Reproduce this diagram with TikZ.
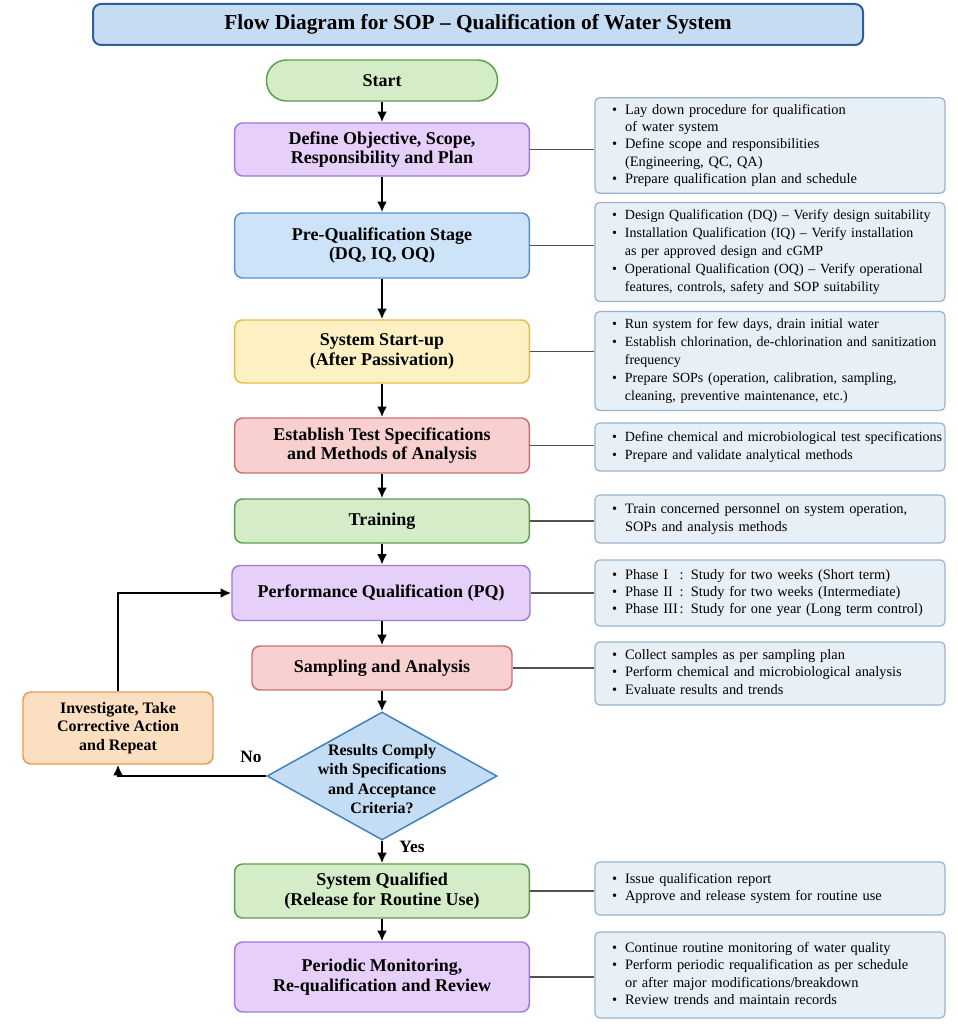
\documentclass[tikz,border=0pt]{standalone}
\usepackage{fontspec}
\setmainfont{Liberation Serif}
\usepackage{tikz}
\usetikzlibrary{arrows,arrows.meta,shapes.geometric}

\definecolor{titlefill}{HTML}{C6DCF3}
\definecolor{titledraw}{HTML}{2F5F9A}
\definecolor{greenfill}{HTML}{D5ECC9}
\definecolor{greendraw}{HTML}{5C9E4B}
\definecolor{purplefill}{HTML}{E6CFF8}
\definecolor{purpledraw}{HTML}{A07AD6}
\definecolor{bluefill}{HTML}{CDE3F7}
\definecolor{bluedraw}{HTML}{5B8FC9}
\definecolor{yellowfill}{HTML}{FDF0C3}
\definecolor{yellowdraw}{HTML}{E3BD4A}
\definecolor{redfill}{HTML}{F9D0D0}
\definecolor{reddraw}{HTML}{C97070}
\definecolor{orangefill}{HTML}{FBDFC0}
\definecolor{orangedraw}{HTML}{E59A55}
\definecolor{decfill}{HTML}{C4DDF4}
\definecolor{decdraw}{HTML}{3D7FBF}
\definecolor{notefill}{HTML}{E7EFF7}
\definecolor{notedraw}{HTML}{9AB3CB}
\definecolor{linkgray}{HTML}{505050}

\newcommand{\notelines}[1]{\begin{tabular}{@{}l@{\hspace{6pt}}l@{}}#1\end{tabular}}
\newcommand{\phase}[1]{\makebox[41pt][l]{#1}}

\begin{document}
\begin{tikzpicture}[x=0.75pt,y=-0.75pt]

\tikzset{box/.style = {shape=rectangle,rounded corners=6pt,draw,line width=1.1pt,minimum width=221pt,align=center,inner sep=2pt,font=\fontsize{13.5}{14.5}\selectfont\bfseries}}
\tikzset{note/.style = {shape=rectangle,rounded corners=3.5pt,draw=notedraw,fill=notefill,line width=0.9pt,minimum width=262.5pt,text width=237pt,inner xsep=12.75pt,align=left,font=\fontsize{10.8}{13}\selectfont}}
\tikzset{decision/.style = {shape=diamond,draw=decdraw,fill=decfill,line width=1.1pt,minimum width=172.5pt,minimum height=96pt,inner sep=0pt}}
\tikzset{lbl/.style = {font=\fontsize{13}{14}\selectfont\bfseries}}
\tikzset{edge/.style = {-{Latex[length=8pt,width=7.5pt]},line width=2.1pt}}
\tikzset{link/.style = {draw=linkgray,line width=1pt}}

\useasboundingbox (0,0) rectangle (957,1024);

% title
\node[box,draw=titledraw,fill=titlefill,line width=1.5pt,minimum width=577.5pt,minimum height=30.75pt,font=\fontsize{16}{17}\selectfont\bfseries] (title) at (478,24.5) {Flow Diagram for SOP -- Qualification of Water System};

% main steps
\node[box,draw=greendraw,fill=greenfill,rounded corners=15pt,minimum width=173.25pt,minimum height=30.75pt] (start) at (382,80.5) {Start};
\node[box,draw=purpledraw,fill=purplefill,minimum height=39.75pt] (define) at (382,149.5) {Define Objective, Scope,\\Responsibility and Plan};
\node[box,draw=bluedraw,fill=bluefill,minimum height=48.75pt] (preq) at (382,245.5) {Pre-Qualification Stage\\(DQ, IQ, OQ)};
\node[box,draw=yellowdraw,fill=yellowfill,minimum height=47.25pt] (startup) at (382,351.5) {System Start-up\\(After Passivation)};
\node[box,draw=reddraw,fill=redfill,minimum height=41.25pt] (specs) at (382,445.5) {Establish Test Specifications\\and Methods of Analysis};
\node[box,draw=greendraw,fill=greenfill,minimum height=33pt] (train) at (382,521) {Training};
\node[box,draw=purpledraw,fill=purplefill,minimum width=223.5pt,minimum height=41.25pt] (pq) at (381,593) {Performance Qualification (PQ)};
\node[box,draw=reddraw,fill=redfill,minimum width=195pt,minimum height=33pt] (sampl) at (382,668) {Sampling and Analysis};
\node[decision] (check) at (382,776) {};
\node[lbl,align=center,font=\fontsize{12}{14.5}\selectfont\bfseries] (checktext) at (382,779) {Results Comply\\with Specifications\\and Acceptance\\Criteria?};
\node[box,draw=orangedraw,fill=orangefill,minimum width=142.5pt,minimum height=54pt,font=\fontsize{12}{13.75}\selectfont\bfseries] (invest) at (118,728) {Investigate, Take\\Corrective Action\\and Repeat};
\node[box,draw=greendraw,fill=greenfill,minimum height=40.5pt] (qualif) at (382,891) {System Qualified\\(Release for Routine Use)};
\node[box,draw=purpledraw,fill=purplefill,minimum height=52.5pt] (monitor) at (382,977) {Periodic Monitoring,\\Re-qualification and Review};

% notes
\node[note,minimum height=69.75pt] (n1) at (770,145.5) {\notelines{\textbullet & Lay down procedure for qualification\\ & of water system\\ \textbullet & Define scope and responsibilities\\ & (Engineering, QC, QA)\\ \textbullet & Prepare qualification plan and schedule}};
\node[note,minimum height=72pt,font=\fontsize{10.5}{13.5}\selectfont] (n2) at (770,252) {\notelines{\textbullet & Design Qualification (DQ) -- Verify design suitability\\ \textbullet & Installation Qualification (IQ) -- Verify installation\\ & as per approved design and cGMP\\ \textbullet & Operational Qualification (OQ) -- Verify operational\\ & features, controls, safety and SOP suitability}};
\node[note,minimum height=73.5pt,font=\fontsize{10.5}{13.5}\selectfont] (n3) at (770,361) {\notelines{\textbullet & Run system for few days, drain initial water\\ \textbullet & Establish chlorination, de-chlorination and sanitization\\ & frequency\\ \textbullet & Prepare SOPs (operation, calibration, sampling,\\ & cleaning, preventive maintenance, etc.)}};
\node[note,minimum height=36pt,font=\fontsize{10.5}{13}\selectfont] (n4) at (770,447) {\notelines{\textbullet & Define chemical and microbiological test specifications\\ \textbullet & Prepare and validate analytical methods}};
\node[note,minimum height=36pt] (n5) at (770,519) {\notelines{\textbullet & Train concerned personnel on system operation,\\ & SOPs and analysis methods}};
\node[note,minimum height=49.5pt] (n6) at (770,593) {\notelines{\textbullet & \phase{Phase I}: Study for two weeks (Short term)\\ \textbullet & \phase{Phase II}: Study for two weeks (Intermediate)\\ \textbullet & \phase{Phase III}: Study for one year (Long term control)}};
\node[note,minimum height=47.25pt] (n7) at (770,673.5) {\notelines{\textbullet & Collect samples as per sampling plan\\ \textbullet & Perform chemical and microbiological analysis\\ \textbullet & Evaluate results and trends}};
\node[note,minimum height=39.75pt] (n8) at (770,888.5) {\notelines{\textbullet & Issue qualification report\\ \textbullet & Approve and release system for routine use}};
\node[note,minimum height=64.5pt] (n9) at (770,975) {\notelines{\textbullet & Continue routine monitoring of water quality\\ \textbullet & Perform periodic requalification as per schedule\\ & or after major modifications/breakdown\\ \textbullet & Review trends and maintain records}};

% labels
\node[lbl] (nolbl) at (251,757) {No};
\node[lbl] (yeslbl) at (412,847) {Yes};

% flow
\draw[edge] (start) -- (define);
\draw[edge] (define) -- (preq);
\draw[edge] (preq) -- (startup);
\draw[edge] (startup) -- (specs);
\draw[edge] (specs) -- (train);
\draw[edge] (train) -- (pq.north -| train.south);
\draw[edge] (pq.south -| sampl.north) -- (sampl);
\draw[edge] (sampl) -- (check);
\draw[edge] (check) -- (qualif);
\draw[edge] (qualif) -- (monitor);
\draw[edge] (check.west) -| (invest.south);
\draw[edge] (invest.north) |- (pq.west);

% links to notes
\draw[link] (define.east) -- (define.east -| n1.west);
\draw[link] (preq.east) -- (preq.east -| n2.west);
\draw[link] (startup.east) -- (startup.east -| n3.west);
\draw[link] (specs.east) -- (specs.east -| n4.west);
\draw[link] (train.east) -- (train.east -| n5.west);
\draw[link] (pq.east) -- (pq.east -| n6.west);
\draw[link] (sampl.east) -- (sampl.east -| n7.west);
\draw[link] (qualif.east) -- (qualif.east -| n8.west);
\draw[link] (monitor.east) -- (monitor.east -| n9.west);
\end{tikzpicture}
\end{document}
